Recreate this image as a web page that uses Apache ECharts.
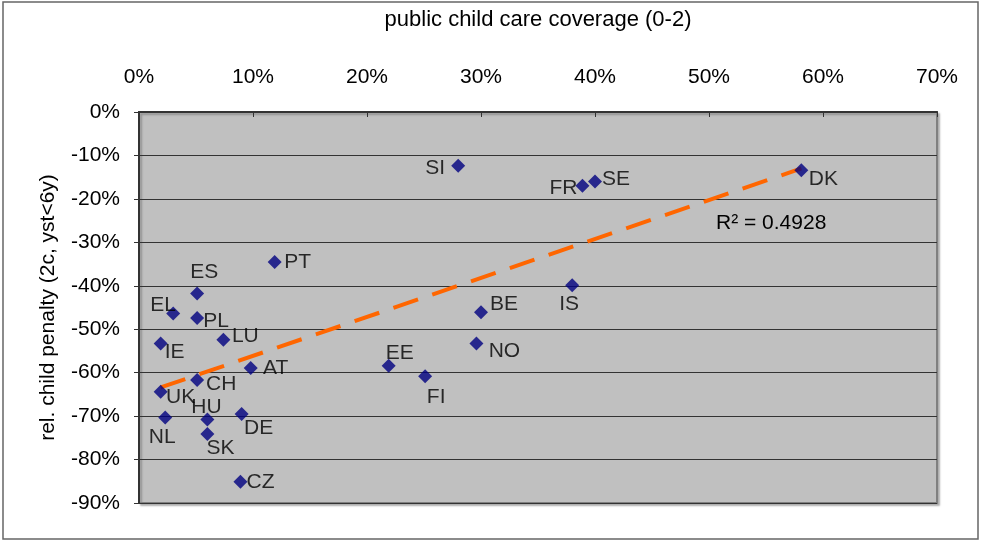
<!DOCTYPE html>
<html>
<head>
<meta charset="utf-8">
<title>child penalty vs child care coverage</title>
<script src="https://cdn.jsdelivr.net/npm/echarts@6/dist/echarts.min.js"></script>
<style>
  html, body { margin: 0; padding: 0; background: #fff; }
  #chart { width: 981px; height: 540px; }
</style>
</head>
<body>
<div id="chart"></div>
<script>
// countries, child care coverage (%) and relative child penalty (%)
const countries = ["SI", "PT", "ES", "EL", "PL", "LU", "IE", "AT", "EE", "FI", "CH", "UK",
  "NL", "HU", "DE", "SK", "CZ", "FR", "SE", "DK", "IS", "BE", "NO"];
const coverage = [28.0, 11.9, 5.1, 3.0, 5.1, 7.4, 1.9, 9.8, 21.9, 25.1, 5.1, 1.9,
  2.3, 6.0, 9.0, 6.0, 8.9, 38.9, 40.0, 58.1, 38.0, 30.0, 29.6];
const penalty = [-12.4, -34.5, -41.8, -46.4, -47.4, -52.4, -53.3, -58.9, -58.4, -60.8, -61.7, -64.4,
  -70.3, -70.8, -69.5, -74.1, -85.1, -17.0, -16.0, -13.4, -39.9, -46.1, -53.3];
// linear trend line end points, as drawn
const trendX = [1.9, 58.1];
const trendY = [-63.4, -13.0];
const rSquared = "0.4928";

// where each label sits relative to its marker (px)
const labelOffset = {
  SI: [-23, 2], PT: [23, 0], ES: [7, -21], EL: [-10, -8], PL: [19, 3], LU: [22, -3],
  IE: [14, 9], AT: [25, 0], EE: [11, -13], FI: [11, 21], CH: [24, 4], UK: [20, 5],
  NL: [-3, 20], HU: [-1, -12], DE: [17, 14], SK: [13, 14], CZ: [20, 0], FR: [-19, 2],
  SE: [21, -2], DK: [22, 9], IS: [-3, 19], BE: [23, -8], NO: [28, 8]
};

const font = "'Liberation Sans', Arial, sans-serif";

const points = countries.map((c, i) => ({
  value: [coverage[i], penalty[i]],
  name: c,
  label: { offset: labelOffset[c] }
}));

const chart = echarts.init(document.getElementById("chart"));
chart.setOption({
  animation: false,
  textStyle: { fontFamily: font },
  graphic: [
    {
      type: "rect",
      shape: { x: 3, y: 2, width: 975, height: 537 },
      style: { fill: "none", stroke: "#666", lineWidth: 1.5 },
      silent: true, z: -10
    },
    {
      type: "text",
      left: 716, top: 213,
      style: { text: "R² = " + rSquared, fontSize: 21, fontFamily: font, fill: "#000" },
      z: 100
    }
  ],
  grid: {
    left: 139, top: 112, width: 798, height: 391,
    show: true,
    backgroundColor: "#C0C0C0",
    borderColor: "#808080",
    borderWidth: 2,
    shadowColor: "rgba(0,0,0,0.25)",
    shadowOffsetX: 2,
    shadowOffsetY: 2,
    shadowBlur: 2
  },
  xAxis: {
    type: "value",
    position: "top",
    min: 0, max: 70, interval: 10,
    name: "public child care coverage (0-2)",
    nameLocation: "middle",
    nameGap: 92,
    nameTextStyle: { fontSize: 22, color: "#000", verticalAlign: "middle" },
    axisLine: { onZero: false, lineStyle: { color: "#333", width: 2 } },
    axisTick: { inside: true, length: 5, lineStyle: { color: "#333" } },
    axisLabel: { formatter: "{value}%", fontSize: 21, color: "#000", margin: 24 },
    splitLine: { show: false }
  },
  yAxis: {
    type: "value",
    min: -90, max: 0, interval: 10,
    name: "rel. child penalty (2c, yst<6y)",
    nameLocation: "middle",
    nameGap: 91,
    nameRotate: 90,
    nameTextStyle: { fontSize: 21, color: "#000", verticalAlign: "middle" },
    axisLine: { onZero: false, lineStyle: { color: "#333", width: 2 } },
    axisTick: { length: 5, lineStyle: { color: "#333" } },
    axisLabel: { formatter: "{value}%", fontSize: 21, color: "#000", margin: 19 },
    splitLine: { lineStyle: { color: "#333", width: 1 } }
  },
  series: [
    {
      type: "line",
      data: trendX.map((x, i) => [x, trendY[i]]),
      symbol: "none",
      lineStyle: { color: "#FF6600", width: 4, type: [26, 15] },
      z: 2,
      silent: true
    },
    {
      type: "scatter",
      data: points,
      symbol: "diamond",
      symbolSize: 14,
      itemStyle: { color: "#000080" },
      label: {
        show: true,
        position: "inside",
        formatter: "{b}",
        fontSize: 21,
        color: "#000",
        fontFamily: font
      },
      z: 3
    }
  ]
});
</script>
</body>
</html>
